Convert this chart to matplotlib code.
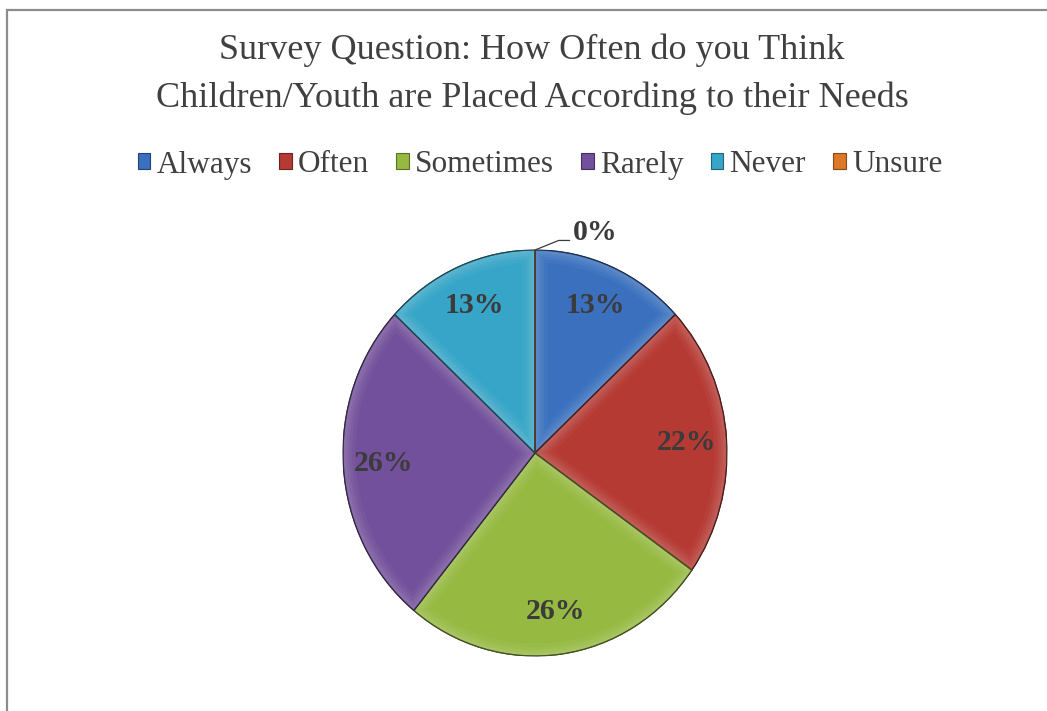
import numpy as np
import matplotlib.pyplot as plt
from matplotlib.patches import Patch, Rectangle, Wedge
from matplotlib.colors import to_rgb

plt.rcParams['font.family'] = ['Liberation Serif', 'DejaVu Serif']

# Survey responses (number of respondents per answer)
answers = ['Always', 'Often', 'Sometimes', 'Rarely', 'Never', 'Unsure']
counts = [3, 5, 6, 6, 3, 0]
colors = ['#3A70BE', '#B53A34', '#96B941', '#73509B', '#37A5C8', '#DC7828']

title = 'Survey Question: How Often do you Think\nChildren/Youth are Placed According to their Needs'


def shade(c, f):
    r, g, b = to_rgb(c)
    return (r * f, g * f, b * f)


def tint(c, f):
    r, g, b = to_rgb(c)
    return (r + (1 - r) * f, g + (1 - g) * f, b + (1 - b) * f)


fig = plt.figure(figsize=(10.47, 7.11), dpi=100)

# grey chart-area frame (top and left edges visible)
fig.patches.append(Rectangle((7 / 1047, -0.1), 1.2, 1.1 - 10 / 711, transform=fig.transFigure,
                             fill=False, edgecolor='#8c8c8c', lw=1.6))

ax = fig.add_axes([343 / 1047, 55 / 711, 384 / 1047, 406 / 711])
wedges, _ = ax.pie(counts, colors=colors, startangle=90, counterclock=False,
                   wedgeprops=dict(edgecolor='#3a3a3a', linewidth=0.8))
ax.set_aspect('auto')
ax.set_xlim(-1, 1)
ax.set_ylim(-1, 1)

# soft bevel: lighter rim fading inward in each slice
for w, c in zip(wedges, colors):
    for lw, a in [(18, 0.08), (13, 0.10), (9, 0.12), (5, 0.14)]:
        rim = Wedge(w.center, w.r, w.theta1, w.theta2,
                    facecolor='none', edgecolor=tint(c, 0.45), lw=lw, alpha=a)
        ax.add_patch(rim)
        rim.set_clip_path(w)
    ax.add_patch(Wedge(w.center, w.r, w.theta1, w.theta2,
                       facecolor='none', edgecolor=shade(c, 0.45), lw=0.9))

total = sum(counts)
for w, n in zip(wedges, counts):
    pct = 100 * n / total
    mid = np.deg2rad((w.theta1 + w.theta2) / 2)
    if n > 0:
        ax.text(0.79 * np.cos(mid), 0.79 * np.sin(mid), f'{pct:.0f}%', ha='center', va='center',
                fontsize=21.5, fontweight='bold', color='#3b3b3b')
    else:
        # zero slice: label outside with a leader line
        x0, y0 = np.cos(mid), np.sin(mid)
        ax.annotate(f'{pct:.0f}%', xy=(x0, y0), xytext=(x0 + 0.195, y0 + 0.05),
                    ha='left', va='baseline', fontsize=21.5, fontweight='bold', color='#3b3b3b',
                    annotation_clip=False,
                    arrowprops=dict(arrowstyle='-', color='#3b3b3b', lw=0.9, relpos=(0, 0.2),
                                    connectionstyle='angle,angleA=0,angleB=22,rad=0',
                                    shrinkA=0, shrinkB=0))

fig.text(532 / 1047, 1 - 74 / 711, title, ha='center', va='center', fontsize=26,
         color='#404040', linespacing=1.55)

handles = [Patch(facecolor=c, edgecolor=shade(c, 0.6), lw=0.8) for c in colors]
fig.legend(handles, answers, loc='center', bbox_to_anchor=(540 / 1047, 1 - 165 / 711), ncol=6,
           frameon=False, fontsize=22.5, handlelength=0.4, handleheight=0.4, handletextpad=0.2,
           columnspacing=0.87, labelcolor='#404040', borderaxespad=0)

fig.savefig('out.png', dpi=100, facecolor='white')
